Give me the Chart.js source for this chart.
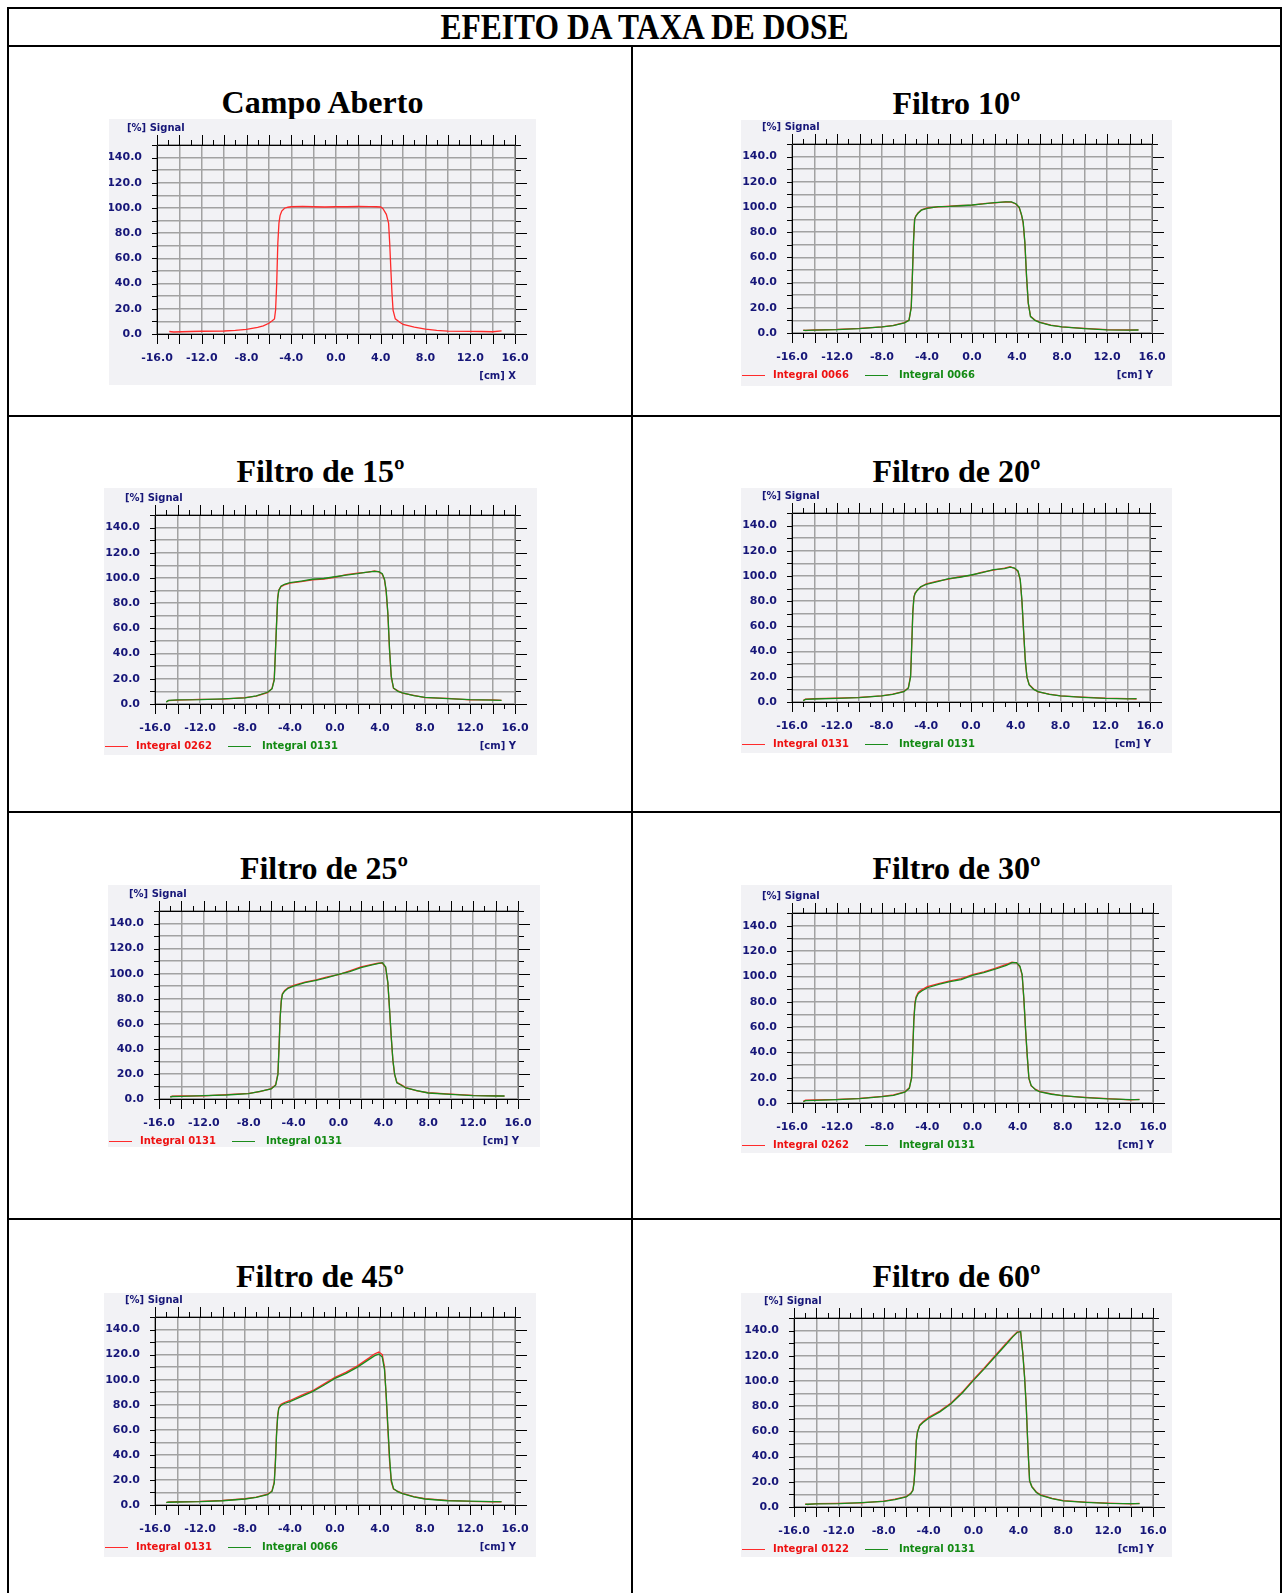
<!DOCTYPE html>
<html>
<head>
<meta charset="utf-8">
<script src="https://cdn.jsdelivr.net/npm/chart.js@4.4.1/dist/chart.umd.min.js"></script>
<style>
  body { margin: 0; background: #fff; width: 1282px; height: 1593px; position: relative; overflow: hidden; }
  .rule { position: absolute; background: #000; }
  .title { position: absolute; text-align: center; font: bold 32px/32px 'Liberation Serif', 'Times New Roman', serif; color: #000; white-space: nowrap; }
  .head { font-size: 35px; line-height: 35px; transform: scaleX(0.9); }
  .box { position: absolute; background: #f2f2f5; }
  .box canvas { position: absolute; left: 0; top: 0; }
  .cap { position: absolute; font: bold 10px/12px 'DejaVu Sans', sans-serif; color: #161678; white-space: nowrap; }
  .key { position: absolute; height: 1px; }
</style>
</head>
<body>
<script>
// profile positions in cm
const openX = [-14.9, -14.5, -13, -12, -10, -9, -8, -7, -6.5, -6, -5.7, -5.5, -5.4, -5.3, -5.2, -5.1, -5.0, -4.85, -4.6, -4.3, -4.0, -3, -2, -1, 0, 1, 2, 3, 3.6, 4.0, 4.2, 4.5, 4.7, 4.8, 4.9, 5.0, 5.1, 5.3, 5.7, 6, 7, 8, 9, 10, 12, 13, 14, 14.8];
const openSignal = [2.0, 1.6, 2.0, 2.2, 2.4, 2.8, 3.6, 5.2, 6.5, 8.5, 10.5, 12, 19, 40, 72, 88, 94, 97.6, 99.8, 100.6, 101, 101.3, 101, 100.8, 101, 101, 101.2, 101.1, 101, 100.8, 99.5, 95, 88, 72, 52, 33, 19, 12, 9.3, 7.6, 5.4, 3.8, 2.8, 2.3, 2.1, 2.0, 1.8, 2.4];

const wedgeX = [-15.0, -14.8, -14, -12, -10, -8, -7, -6, -5.6, -5.4, -5.3, -5.2, -5.1, -5.0, -4.8, -4.5, -4.0, -3, -2, -1, 0, 1, 2, 3, 3.5, 3.9, 4.2, 4.4, 4.55, 4.7, 4.85, 5.0, 5.2, 5.6, 6, 7, 8, 10, 12, 14, 14.8];

const w10Red = [2.3, 2.0, 2.4, 2.8, 3.6, 4.9, 6.1, 8.2, 10.3, 21, 46, 73, 90.5, 92.8, 95.3, 97.8, 99.2, 100.1, 100.6, 101.2, 101.5, 102.6, 103.3, 104.1, 103.8, 102.4, 99.3, 93.5, 87, 71, 44, 23.5, 13.4, 10.3, 8.7, 6.2, 4.9, 3.6, 2.6, 2.4, 2.5];
const w10Green = [2.1, 2.1, 2.3, 2.7, 3.5, 4.8, 5.9, 8.0, 10.0, 20, 45, 72, 90, 92.5, 95, 97.5, 99.0, 100.3, 100.5, 101.0, 101.6, 102.4, 103.5, 104.0, 104.0, 102.6, 99.7, 94, 88, 72, 45, 24, 13, 10.0, 8.5, 6.0, 4.8, 3.5, 2.5, 2.3, 2.4];

const w15Red = [1.8, 2.6, 3.0, 3.6, 3.8, 5.0, 6.3, 9.0, 12.4, 20, 41, 63, 84, 90.4, 93.2, 94.6, 96.0, 97.2, 98.6, 99.2, 100.6, 102.6, 103.8, 104.6, 105.6, 104.8, 103.0, 98.4, 89, 71, 42, 21.5, 12.5, 10.4, 8.6, 6.9, 5.1, 4.4, 3.2, 3.2, 2.8];
const w15Green = [1.5, 2.8, 3.2, 3.4, 4.0, 4.8, 6.5, 9.3, 12, 19, 40, 62, 83, 90, 93.5, 95, 96.3, 97.6, 99.0, 99.6, 101.0, 102.3, 103.4, 104.8, 105.3, 105.0, 103.5, 99, 90, 72, 43, 22, 12.7, 10.0, 8.8, 6.6, 5.3, 4.2, 3.4, 3.0, 2.9];

const w20Red = [1.2, 2.3, 2.6, 3.1, 3.7, 4.9, 6.2, 8.4, 11.3, 21, 45, 72, 83.5, 86.4, 88.8, 91.2, 93.8, 95.9, 97.5, 99.4, 100.5, 103.0, 104.6, 106.2, 107.4, 106.0, 103.6, 96.8, 80, 56, 33, 19.5, 13.9, 10.3, 8.0, 6.3, 4.9, 3.9, 3.1, 2.7, 2.4];
const w20Green = [1.0, 2.1, 2.4, 2.9, 3.5, 4.8, 6.0, 8.2, 11, 20, 44, 71, 83, 86, 88.5, 91.5, 93.4, 95.5, 97.9, 99.0, 100.8, 102.7, 105.0, 105.9, 107.0, 106.3, 104.0, 97.3, 81, 57, 33.5, 20, 13.6, 10.0, 8.2, 6.1, 4.8, 3.7, 2.9, 2.5, 2.6];

const w25Red = [1.9, 2.2, 2.4, 2.5, 3.5, 4.5, 5.9, 8.3, 11.4, 20.5, 42, 66, 79, 84, 86.6, 88.8, 90.6, 93.2, 95.1, 97.4, 99.2, 102.2, 105.4, 107.5, 108.3, 108.5, 105.0, 92.4, 71, 49, 30.5, 19.5, 13.4, 11.3, 9.1, 6.5, 5.0, 3.9, 2.9, 2.6, 2.3];
const w25Green = [1.6, 2.0, 2.1, 2.7, 3.2, 4.3, 6.1, 8.0, 11, 19.5, 40.8, 64.8, 78, 83.5, 86, 88.3, 90.0, 92.8, 94.7, 96.8, 99.5, 101.6, 104.8, 107.0, 108.0, 108.8, 105.5, 93, 72, 50, 31, 20, 13, 11, 8.8, 6.7, 4.8, 3.7, 2.7, 2.4, 2.4];

const w30Red = [1.3, 2.2, 2.4, 2.8, 3.7, 5.3, 6.4, 8.8, 12.0, 20.5, 42, 66, 79, 84, 87.4, 89.3, 91.8, 94.3, 96.4, 98.2, 101.3, 103.6, 106.3, 109.4, 111.2, 110.6, 107.6, 100.8, 82, 58, 37, 19.2, 13.5, 10.7, 9.0, 7.2, 5.6, 4.4, 3.4, 2.5, 2.8];
const w30Green = [1.0, 1.9, 2.1, 2.6, 3.4, 5.0, 6.1, 8.5, 11.6, 19.6, 40.7, 64.6, 77.8, 83, 86.5, 88.4, 91.0, 93.7, 95.8, 97.4, 100.8, 102.9, 105.6, 108.7, 110.8, 110.8, 108.0, 101.6, 83, 59, 38, 19.6, 13.8, 10.3, 8.7, 6.9, 5.8, 4.2, 3.2, 2.7, 2.6];

const w45Red = [1.8, 2.4, 2.6, 2.9, 3.6, 5.0, 6.3, 8.6, 11.2, 18.5, 35, 57, 71, 77.5, 80.3, 81.8, 83.4, 87.4, 91.2, 96.4, 101.8, 106.0, 111.0, 117.2, 120.5, 122.0, 120.0, 110, 86, 60, 35, 18.5, 12.8, 10.8, 9.3, 6.7, 5.0, 3.7, 2.9, 2.5, 2.6];
const w45Green = [2.1, 2.2, 2.4, 2.7, 3.4, 4.8, 6.0, 8.2, 10.8, 17.5, 33, 55, 70, 77, 79.5, 81, 82.5, 86.5, 90.5, 95.5, 101.0, 105.0, 110.0, 116.0, 119.0, 120.5, 118.0, 108, 88, 63, 38, 20, 13, 10.5, 9.0, 6.4, 4.8, 3.4, 3.1, 2.7, 2.7];

const w60Red = [2.4, 2.0, 2.7, 2.9, 3.3, 4.7, 6.2, 8.3, 10.9, 13.6, 20, 33, 53, 59.5, 65, 67.6, 71.2, 76.2, 82.6, 91.2, 101.2, 110.8, 120.8, 130.8, 135.6, 139.0, 139.0, 122, 104, 81, 47, 20.5, 16.4, 11.9, 9.6, 6.9, 5.1, 3.9, 3.1, 2.5, 2.8];
const w60Green = [2.1, 2.2, 2.5, 2.7, 3.5, 4.5, 5.9, 8.0, 10.5, 13, 19, 32, 52, 59, 64.5, 67, 70.5, 75.5, 82, 90.5, 100.5, 110, 120, 130, 135, 138.5, 139.3, 121, 103, 80, 48, 21, 16, 11.5, 9.3, 6.6, 4.8, 3.7, 2.9, 2.7, 2.7];

const xRange = [-16, 16];
const yRange = [0, 150];

const seriesColors = ['#ff2b2b', '#1b8c1b'];
const keyTextColors = ['#ee1111', '#138a13'];
const navy = '#161678';
const gridGray = '#a2a2a2';

// box = [left, top, width, height], plot = [left, top, right, bottom] in page pixels
const panels = [
    { title: 'Campo Aberto', box: [109, 119, 427, 266], plot: [157, 145, 515, 334], axis: 'X', xs: openX, series: [openSignal], keys: [] },
    { title: 'Filtro 10º', box: [741, 120, 431, 266], plot: [792, 144, 1152, 333], axis: 'Y', xs: wedgeX, series: [w10Red, w10Green], keys: ['Integral 0066', 'Integral 0066'] },
    { title: 'Filtro de 15º', box: [104, 488, 433, 267], plot: [155, 515, 515, 704], axis: 'Y', xs: wedgeX, series: [w15Red, w15Green], keys: ['Integral 0262', 'Integral 0131'] },
    { title: 'Filtro de 20º', box: [741, 488, 431, 265], plot: [792, 513, 1150, 702], axis: 'Y', xs: wedgeX, series: [w20Red, w20Green], keys: ['Integral 0131', 'Integral 0131'] },
    { title: 'Filtro de 25º', box: [108, 885, 432, 262], plot: [159, 911, 518, 1099], axis: 'Y', xs: wedgeX, series: [w25Red, w25Green], keys: ['Integral 0131', 'Integral 0131'] },
    { title: 'Filtro de 30º', box: [741, 885, 431, 268], plot: [792, 913, 1153, 1103], axis: 'Y', xs: wedgeX, series: [w30Red, w30Green], keys: ['Integral 0262', 'Integral 0131'] },
    { title: 'Filtro de 45º', box: [104, 1293, 432, 264], plot: [155, 1317, 515, 1505], axis: 'Y', xs: wedgeX, series: [w45Red, w45Green], keys: ['Integral 0131', 'Integral 0066'] },
    { title: 'Filtro de 60º', box: [741, 1293, 431, 264], plot: [794, 1318, 1153, 1507], axis: 'Y', xs: wedgeX, series: [w60Red, w60Green], keys: ['Integral 0122', 'Integral 0131'] }
];

// table rules: [left, top, width, height]
const rules = [
    [7, 7, 1275, 2], [7, 45, 1275, 2], [7, 415, 1275, 2], [7, 811, 1275, 2], [7, 1218, 1275, 2],
    [7, 7, 2, 1586], [1280, 7, 2, 1586], [631, 45, 2, 1548]
];

function place(el, left, top, width, height) {
    el.style.left = left + 'px';
    el.style.top = top + 'px';
    if (width !== undefined) el.style.width = width + 'px';
    if (height !== undefined) el.style.height = height + 'px';
    return el;
}

function make(cls, parent, text) {
    const el = document.createElement('div');
    el.className = cls;
    if (text) el.textContent = text;
    parent.appendChild(el);
    return el;
}

rules.forEach(r => place(make('rule', document.body), r[0], r[1], r[2], r[3]));
place(make('title head', document.body, 'EFEITO DA TAXA DE DOSE'), 9, 10, 1271);

// outer tick marks and frame, drawn from the chart's own scales
const axisFrame = {
    id: 'axisFrame',
    afterDraw(chart) {
        const { ctx, chartArea: a } = chart;
        const xs = chart.scales.x, ys = chart.scales.y;
        ctx.save();
        ctx.lineWidth = 1;
        ctx.strokeStyle = '#000';
        ctx.beginPath();
        xs.ticks.forEach(t => {
            const px = Math.round(xs.getPixelForValue(t.value)) + 0.5;
            const len = t.value % 2 === 0 ? 10 : 5;
            ctx.moveTo(px, a.top); ctx.lineTo(px, a.top - len);
            ctx.moveTo(px, a.bottom); ctx.lineTo(px, a.bottom + len);
        });
        ys.ticks.forEach(t => {
            const py = Math.round(ys.getPixelForValue(t.value)) + 0.5;
            ctx.moveTo(a.left, py); ctx.lineTo(a.left - 5, py);
            ctx.moveTo(a.right, py); ctx.lineTo(a.right + (t.value % 20 === 0 ? 12 : 6), py);
        });
        const l = Math.round(a.left) + 0.5, r = Math.round(a.right) + 0.5;
        const tp = Math.round(a.top) + 0.5, b = Math.round(a.bottom) + 0.5;
        ctx.moveTo(l, tp); ctx.lineTo(r, tp);
        ctx.moveTo(l, b); ctx.lineTo(r, b);
        ctx.moveTo(l, tp); ctx.lineTo(l, b);
        ctx.stroke();
        ctx.strokeStyle = '#6e6e6e';
        ctx.beginPath();
        ctx.moveTo(r, tp); ctx.lineTo(r, b);
        ctx.stroke();
        ctx.restore();
    }
};

const tickFont = { family: "'DejaVu Sans', sans-serif", size: 11, weight: 'bold' };

panels.forEach(p => {
    const [bx, by, bw, bh] = p.box;
    const [pl, pt, pr, pb] = p.plot;

    place(make('title', document.body, p.title), bx, by - 33, bw);

    const box = place(make('box', document.body), bx, by, bw, bh);
    const canvas = document.createElement('canvas');
    canvas.width = bw;
    canvas.height = bh;
    box.appendChild(canvas);

    place(make('cap', box, '[%] Signal'), pl - bx - 30, pt - by - 23);
    const unit = make('cap', box, '[cm] ' + p.axis);
    unit.style.right = (bx + bw - pr - 1) + 'px';
    unit.style.top = (pb - by + 36) + 'px';

    const rowMid = pb - by + 42;
    p.keys.forEach((k, i) => {
        const line = place(make('key', box), 1 + i * 123, rowMid, 23, 1);
        line.style.background = seriesColors[i];
        const txt = place(make('cap', box, k), 32 + i * 126, rowMid - 6);
        txt.style.color = keyTextColors[i];
    });

    new Chart(canvas, {
        type: 'line',
        data: {
            // the last series is drawn on top, as in the reference
            datasets: p.series.map((s, i) => ({
                label: p.keys[i] || p.title,
                data: p.xs.map((x, k) => ({ x: x, y: s[k] })),
                borderColor: seriesColors[i],
                borderWidth: 1.3,
                pointRadius: 0,
                tension: 0,
                fill: false,
                order: p.series.length - i
            }))
        },
        options: {
            responsive: false,
            animation: false,
            devicePixelRatio: 1,
            layout: { padding: { top: pt - by, right: bx + bw - pr, left: 0, bottom: 0 } },
            plugins: { legend: { display: false }, tooltip: { enabled: false } },
            scales: {
                x: {
                    type: 'linear',
                    min: xRange[0],
                    max: xRange[1],
                    afterFit: s => { s.height = by + bh - pb; s.paddingLeft = 0; s.paddingRight = 0; },
                    ticks: {
                        stepSize: 1, autoSkip: false, maxRotation: 0, padding: 18,
                        color: navy, font: tickFont,
                        callback: v => (v % 4 === 0 ? v.toFixed(1) : '')
                    },
                    grid: {
                        drawTicks: false,
                        lineWidth: 1.5,
                        color: c => (c.tick && c.tick.value % 2 === 0 ? gridGray : 'rgba(0,0,0,0)')
                    },
                    border: { display: false }
                },
                y: {
                    type: 'linear',
                    min: yRange[0],
                    max: yRange[1],
                    afterFit: s => { s.width = pl - bx; s.paddingTop = 0; s.paddingBottom = 0; },
                    ticks: {
                        stepSize: 10, autoSkip: false, padding: 15,
                        color: navy, font: tickFont,
                        callback: v => (v % 20 === 0 && v < 150 ? v.toFixed(1) : '')
                    },
                    grid: { drawTicks: false, lineWidth: 1.5, color: gridGray },
                    border: { display: false }
                }
            }
        },
        plugins: [axisFrame]
    });
});
</script>
</body>
</html>
